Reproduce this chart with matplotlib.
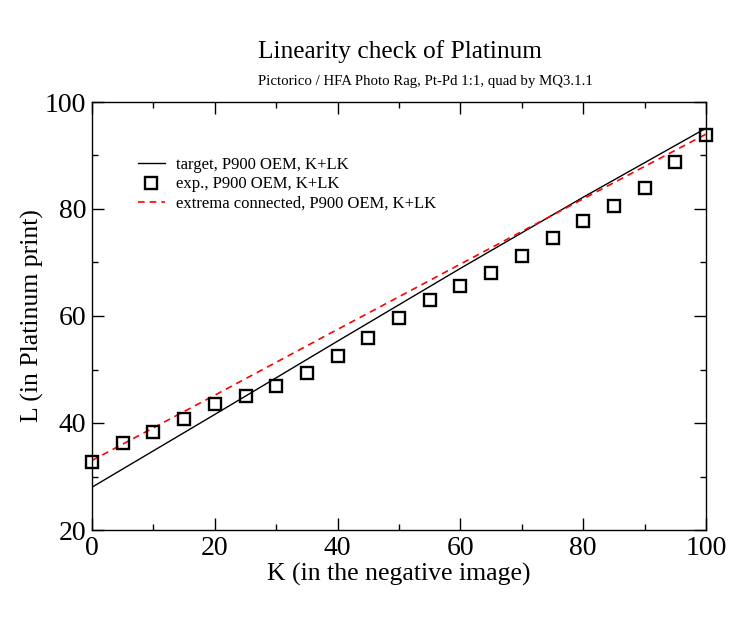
import matplotlib
matplotlib.use("Agg")
import matplotlib.pyplot as plt

plt.rcParams['font.family'] = ['Liberation Serif', 'DejaVu Serif']

# measured points (K in negative, L in print)
k_exp = [0, 5, 10, 15, 20, 25, 30, 35, 40, 45, 50,
         55, 60, 65, 70, 75, 80, 85, 90, 95, 100]
l_exp = [32.8, 36.2, 38.3, 40.7, 43.6, 45.0, 46.9, 49.4, 52.6, 55.8, 59.6,
         62.9, 65.7, 68.1, 71.3, 74.6, 77.8, 80.6, 84.0, 88.7, 93.9]

# target curve
k_target = [0, 20, 40, 60, 80, 100]
l_target = [28.0, 41.6, 55.3, 68.9, 82.2, 95.1]

# extrema connected curve
k_conn = [0, 20, 40, 60, 80, 100]
l_conn = [33.0, 45.2, 57.5, 69.7, 81.9, 94.0]

fig = plt.figure(figsize=(7.45, 6.25), dpi=100)
ax = fig.add_axes([92 / 745, 1 - 530 / 625, 614 / 745, 428 / 625])

ax.plot(k_target, l_target, color='black', lw=1.0,
        label='target, P900 OEM, K+LK')
ax.plot(k_exp, l_exp, ls='none', marker='s', markersize=8,
        markerfacecolor='none', markeredgecolor='black', markeredgewidth=1.7,
        clip_on=False, zorder=3, label='exp., P900 OEM, K+LK')
ax.plot(k_conn, l_conn, color='red', lw=1.2, dashes=(4.0, 3.0),
        label='extrema connected, P900 OEM, K+LK')

ax.set_xlim(0, 100)
ax.set_ylim(20, 100)
ax.set_xticks(range(0, 101, 20))
ax.set_xticks(range(10, 100, 20), minor=True)
ax.set_yticks(range(20, 101, 20))
ax.set_yticks(range(30, 100, 20), minor=True)
ax.tick_params(which='both', direction='in', top=True, right=True,
               width=1.0, labelsize=20, pad=4)
ax.tick_params(which='major', length=8.6)
ax.tick_params(which='minor', length=4.3)
for sp in ax.spines.values():
    sp.set_linewidth(1.0)

ax.set_xlabel('K (in the negative image)', fontsize=18.5, labelpad=2)
ax.set_ylabel('L (in Platinum print)', fontsize=18.5, labelpad=1)

fig.text(0.537, 0.917, 'Linearity check of Platinum', fontsize=18.3,
         ha='center', va='center')
fig.text(0.571, 0.869, 'Pictorico / HFA Photo Rag, Pt-Pd 1:1, quad by MQ3.1.1',
         fontsize=10.7, ha='center', va='center')

ax.legend(loc='upper left', bbox_to_anchor=(0.075, 0.872), frameon=False,
          fontsize=12, borderpad=0, handlelength=1.6, handletextpad=0.65,
          labelspacing=0.22, borderaxespad=0)

fig.savefig('out.png', dpi=100)
